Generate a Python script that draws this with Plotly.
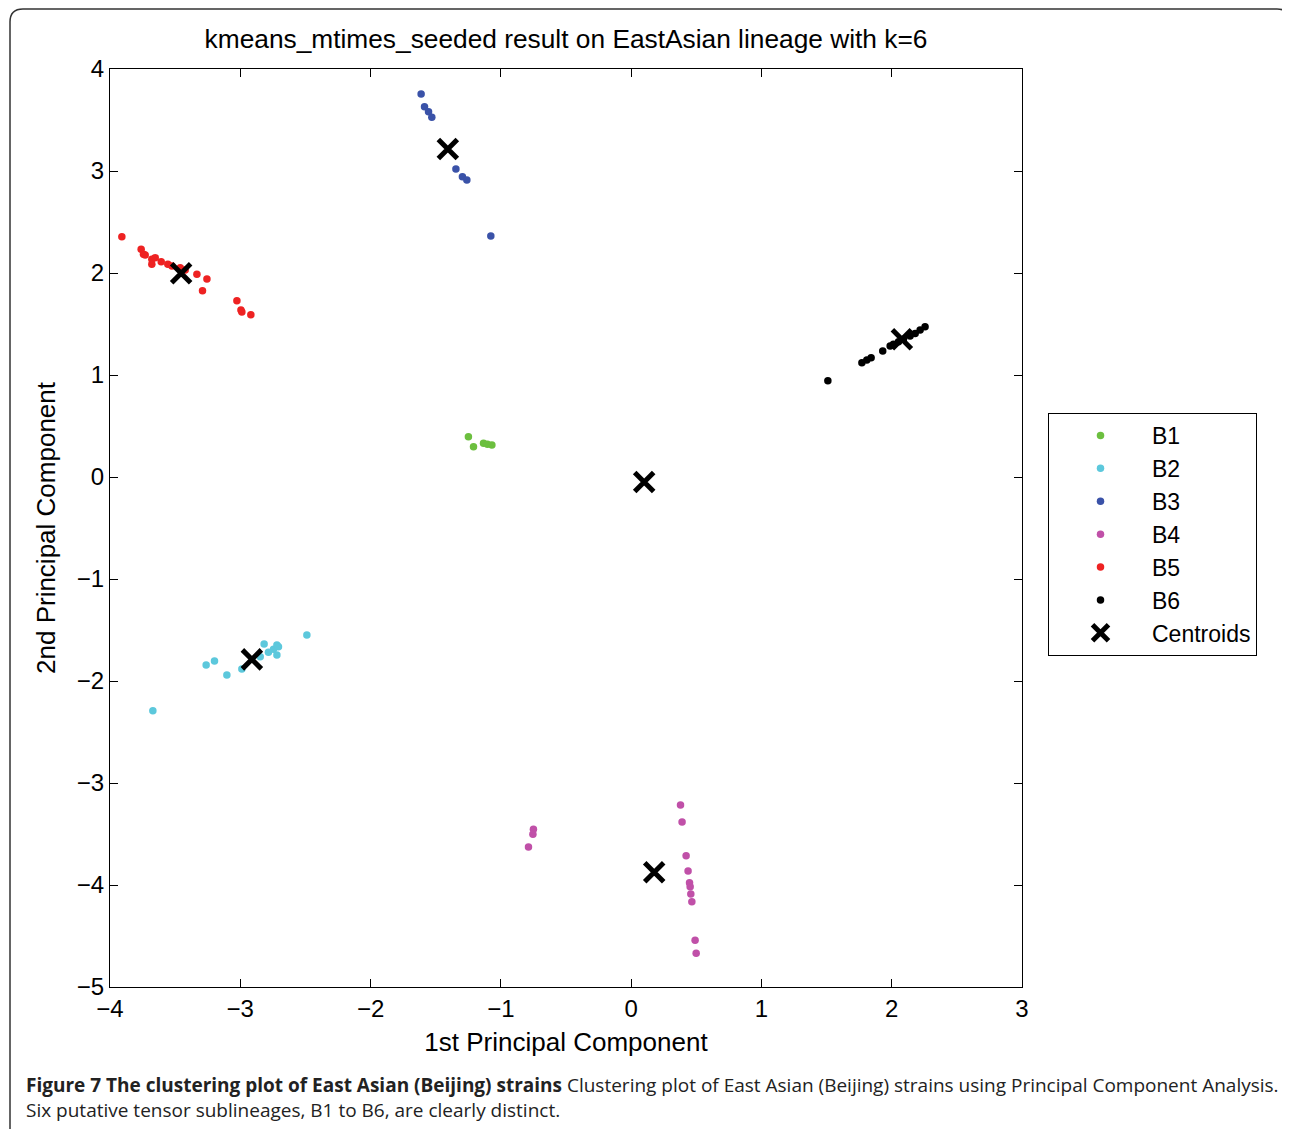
import plotly.graph_objects as go

# ---- data ----
b1_x = [-1.249, -1.210, -1.133, -1.103, -1.069]
b1_y = [0.395, 0.297, 0.330, 0.320, 0.314]

b2_x = [-3.671, -3.262, -3.198, -3.103, -2.988, -2.847, -2.817, -2.784, -2.745, -2.719, -2.707, -2.719, -2.489]
b2_y = [-2.291, -1.843, -1.804, -1.941, -1.882, -1.762, -1.637, -1.719, -1.689, -1.647, -1.664, -1.745, -1.549]

b3_x = [-1.612, -1.586, -1.555, -1.530, -1.345, -1.295, -1.261, -1.077]
b3_y = [3.755, 3.630, 3.580, 3.526, 3.020, 2.944, 2.912, 2.363]

b4_x = [-0.750, -0.754, -0.788, 0.379, 0.391, 0.422, 0.437, 0.448, 0.453, 0.458, 0.466, 0.491, 0.499]
b4_y = [-3.454, -3.503, -3.627, -3.216, -3.382, -3.713, -3.863, -3.977, -4.016, -4.088, -4.163, -4.542, -4.670]

b5_x = [-3.909, -3.761, -3.743, -3.730, -3.679, -3.653, -3.679, -3.607, -3.556, -3.525, -3.461, -3.423, -3.333, -3.256, -3.290, -3.026, -2.995, -2.988, -2.919]
b5_y = [2.356, 2.232, 2.183, 2.176, 2.134, 2.150, 2.085, 2.111, 2.085, 2.069, 2.052, 2.029, 1.987, 1.941, 1.827, 1.729, 1.637, 1.618, 1.591]

b6_x = [1.510, 1.771, 1.809, 1.842, 1.931, 1.988, 2.013, 2.052, 2.090, 2.141, 2.180, 2.218, 2.256]
b6_y = [0.944, 1.121, 1.147, 1.170, 1.235, 1.284, 1.301, 1.327, 1.350, 1.382, 1.408, 1.441, 1.474]

cent_x = [-3.454, -1.407, 2.078, 0.100, -2.911, 0.177]
cent_y = [1.997, 3.216, 1.350, -0.049, -1.788, -3.876]

x_ticks = [-4, -3, -2, -1, 0, 1, 2, 3]
y_ticks = [4, 3, 2, 1, 0, -1, -2, -3, -4, -5]

series = [
    ("B1", b1_x, b1_y, "#6cbf3f"),
    ("B2", b2_x, b2_y, "#5cc8dc"),
    ("B3", b3_x, b3_y, "#3a52a8"),
    ("B4", b4_x, b4_y, "#c050a8"),
    ("B5", b5_x, b5_y, "#ee2222"),
    ("B6", b6_x, b6_y, "#000000"),
]

OFF = 8  # page body margin
W, H = 1290 - OFF, 1129 - OFF
L, R, T, B = 110 - OFF, 1022 - OFF, 69 - OFF, 987 - OFF

def px(x):
    return (x - OFF - L) / (R - L)

def py(y):
    return (B - (y - OFF)) / (B - T)

fig = go.Figure()
for name, xs, ys, col in series:
    fig.add_trace(go.Scatter(x=xs, y=ys, mode="markers", name=name,
                             marker=dict(color=col, size=7.5, line=dict(width=0))))
fig.add_trace(go.Scatter(x=cent_x, y=cent_y, mode="markers", name="Centroids",
                         marker=dict(symbol="x-thin", size=19, color="black",
                                     line=dict(color="black", width=5))))

font = "Liberation Sans, Arial, sans-serif"
axis_common = dict(showgrid=False, zeroline=False, showline=True, linecolor="black",
                   linewidth=1, mirror="ticks", ticks="inside", ticklen=8,
                   tickcolor="black", tickfont=dict(family=font, size=24, color="black"))

fig.update_layout(
    width=W, height=H,
    margin=dict(l=L, r=W - R, t=T, b=H - B),
    paper_bgcolor="white", plot_bgcolor="white",
    title=dict(text="kmeans_mtimes_seeded result on EastAsian lineage with k=6",
               x=(L + R) / 2 / W, xanchor="center", y=1 - (39 - OFF) / H, yanchor="middle",
               font=dict(family=font, size=26.3, color="black")),
    xaxis=dict(range=[-4, 3], tickvals=x_ticks,
               title=dict(text="1st Principal Component", font=dict(family=font, size=26, color="black"),
                          standoff=12),
               **axis_common),
    yaxis=dict(range=[-5, 4], tickvals=y_ticks,
               title=dict(text="2nd Principal Component", font=dict(family=font, size=26, color="black"),
                          standoff=13),
               **axis_common),
    legend=dict(x=px(1048), y=py(413), xanchor="left", yanchor="top",
                bordercolor="black", borderwidth=1, bgcolor="white",
                font=dict(family=font, size=23, color="black"),
                itemwidth=93, tracegroupgap=0),
    showlegend=True,
)

# rounded outer frame
frame = (f"M {px(10)},{py(1140)} L {px(10)},{py(22)} Q {px(10)},{py(9)} {px(23)},{py(9)} "
         f"L {px(1277)},{py(9)} Q {px(1289)},{py(9)} {px(1289)},{py(21)}")
fig.add_shape(type="path", path=frame, xref="paper", yref="paper",
              line=dict(color="#333333", width=1.5))

caption = ("<b>Figure 7 The clustering plot of East Asian (Beijing) strains</b> "
           "Clustering plot of East Asian (Beijing) strains using Principal Component Analysis.<br>"
           "Six putative tensor sublineages, B1 to B6, are clearly distinct.")
fig.add_annotation(text=caption, xref="paper", yref="paper", x=px(24), y=py(1070),
                   xanchor="left", yanchor="top", align="left", showarrow=False,
                   font=dict(family="Open Sans, sans-serif", size=19, color="#222222"))

fig.write_html("out.html")
